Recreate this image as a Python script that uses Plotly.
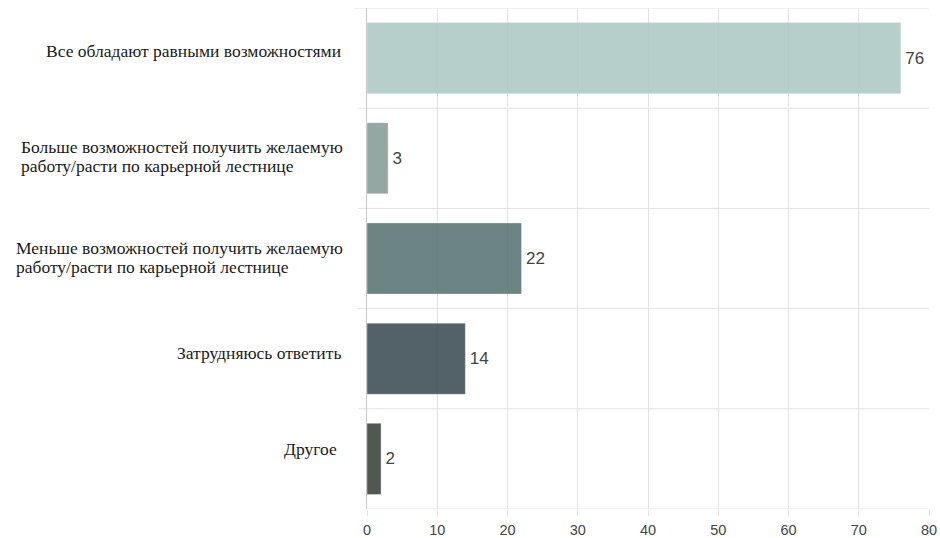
import plotly.graph_objects as go

# Survey answers (each entry is a list of label lines) and their counts
categories = [
    ["Все обладают равными возможностями"],
    ["Больше возможностей получить желаемую", "работу/расти по карьерной лестнице"],
    ["Меньше возможностей получить желаемую", "работу/расти по карьерной лестнице"],
    ["Затрудняюсь ответить"],
    ["Другое"],
]
values = [76, 3, 22, 14, 2]
bar_colors = ["#b0cac5", "#889e9a", "#5d7777", "#415158", "#3e483f"]
x_ticks = [0, 10, 20, 30, 40, 50, 60, 70, 80]

GRID = "#e2e2e2"
W, H = 940, 538
ML, MR, MT, MB = 367, 11, 8, 29
plot_w = W - ML - MR

cat_names = [" ".join(lines) for lines in categories]

fig = go.Figure(
    go.Bar(
        y=cat_names,
        x=values,
        orientation="h",
        width=0.71,
        marker=dict(color=bar_colors, opacity=0.9,
                    line=dict(color="rgba(255,255,255,0.35)", width=1)),
        text=["\u200a" + str(v) for v in values],
        textposition="outside",
        cliponaxis=False,
        textfont=dict(family="Liberation Sans, Arial, sans-serif", size=17, color="#444444"),
        hoverinfo="skip",
    )
)

# Category labels, one annotation per line for a tight line height
LABEL_FONT = dict(family="Liberation Serif, Times New Roman, serif", size=17.5, color="#1a1a1a")
LINE_H = 19
single_right = [-24, None, None, -24, -28]
single_up = [7, None, None, 6, 10]
multi_left = [None, -348, -353, None, None]

annotations = []
for i, (lines, name) in enumerate(zip(categories, cat_names)):
    if len(lines) == 1:
        annotations.append(dict(
            x=0, xref="paper", y=name, yref="y",
            text=lines[0], showarrow=False,
            xanchor="right", yanchor="middle",
            xshift=single_right[i], yshift=single_up[i],
            font=LABEL_FONT,
        ))
    else:
        n = len(lines)
        for k, line in enumerate(lines):
            offset = ((n - 1) / 2 - k) * LINE_H + 1.5
            annotations.append(dict(
                x=0, xref="paper", y=name, yref="y",
                text=line, showarrow=False,
                xanchor="left", yanchor="middle",
                xshift=multi_left[i], yshift=offset,
                font=LABEL_FONT,
            ))

# Horizontal separators between category bands
shapes = []
for i in range(len(categories) + 1):
    if i == 0:
        x0 = -14 / plot_w
    elif i == len(categories):
        x0 = 0
    else:
        x0 = -9 / plot_w
    shapes.append(dict(
        type="line", xref="paper", yref="y",
        x0=x0, x1=1, y0=i - 0.5, y1=i - 0.5,
        line=dict(color=GRID, width=1), layer="below",
    ))

fig.update_layout(
    width=W, height=H,
    margin=dict(l=ML, r=MR, t=MT, b=MB),
    paper_bgcolor="white", plot_bgcolor="white",
    showlegend=False,
    annotations=annotations,
    shapes=shapes,
    xaxis=dict(
        range=[0, 80],
        automargin=False,
        tickvals=x_ticks,
        ticktext=[str(t) for t in x_ticks],
        showgrid=True, gridcolor=GRID, gridwidth=1,
        zeroline=False, showline=False,
        ticks="outside", ticklen=6, tickcolor=GRID,
        ticklabelstandoff=2,
        tickfont=dict(family="Liberation Sans, Arial, sans-serif", size=14.5, color="#444444"),
        fixedrange=True,
    ),
    yaxis=dict(
        range=[len(categories) - 0.5, -0.5],
        automargin=False,
        showticklabels=False,
        showgrid=False, zeroline=False,
        showline=True, linecolor="#c8c8c8", linewidth=1,
        ticks="",
        fixedrange=True,
    ),
)

fig.write_html("out.html", config={"displayModeBar": False})
